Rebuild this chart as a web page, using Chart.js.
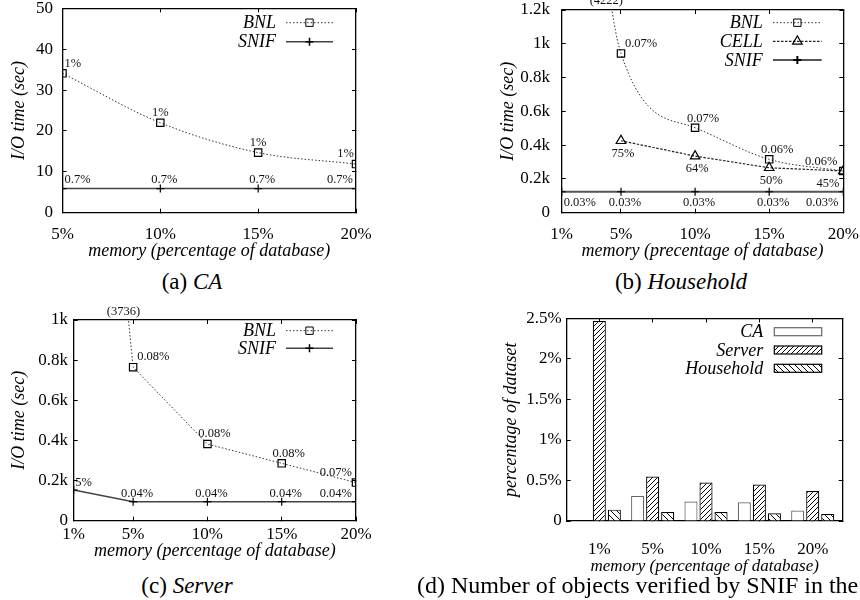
<!DOCTYPE html>
<html>
<head>
<meta charset="utf-8">
<script src="https://cdn.jsdelivr.net/npm/chart.js@4.4.1/dist/chart.umd.min.js"></script>
<style>
  html, body { margin: 0; padding: 0; background: #fff; }
  #page { position: relative; width: 860px; height: 600px; overflow: hidden;
          font-family: "Liberation Serif", "Times New Roman", serif; color: #000; }
  canvas { position: absolute; }
  .cap { position: absolute; font-size: 23px; line-height: 23px; white-space: nowrap; }
  .cap.mid { transform: translateX(-50%); }
  .cap i { font-style: italic; }
</style>
</head>
<body>
<div id="page">
  <canvas id="chartA" width="430" height="262" style="left:0;top:0"></canvas>
  <canvas id="chartB" width="430" height="262" style="left:430px;top:0"></canvas>
  <canvas id="chartC" width="430" height="262" style="left:0;top:300px"></canvas>
  <canvas id="chartD" width="430" height="277" style="left:430px;top:300px"></canvas>
  <div class="cap mid" style="left:192px;top:270px">(a) <i>CA</i></div>
  <div class="cap mid" style="left:681px;top:270px">(b) <i>Household</i></div>
  <div class="cap mid" style="left:187px;top:574px">(c) <i>Server</i></div>
  <div class="cap" style="left:417px;top:574px;font-size:24px">(d) Number of objects verified by SNIF in the</div>
</div>
<script>
// ---- (a) CA: I/O time vs memory ----
const memA = [5, 10, 15, 20];
const bnlA = [34.1, 22.0, 14.7, 11.9];
const snifA = [5.9, 5.9, 5.9, 5.9];
const bnlTextA = ['1%', '1%', '1%', '1%'];
const snifTextA = ['0.7%', '0.7%', '0.7%', '0.7%'];
const xTicksA = [5, 10, 15, 20];
const yTicksA = [0, 10, 20, 30, 40, 50];
const yLabelsA = ['0', '10', '20', '30', '40', '50'];

// ---- (b) Household ----
const memB = [1, 5, 10, 15, 20];
const bnlB = [4222, 943, 503, 316, 247];
const memCellB = [5, 10, 15, 20];
const cellB = [426, 335, 266, 247];
const snifB = [124, 124, 124, 124, 124];
const bnlTextB = [null, '0.07%', '0.07%', '0.06%', '0.06%'];
const cellTextB = ['75%', '64%', '50%', '45%'];
const snifTextB = ['0.03%', '0.03%', '0.03%', '0.03%', '0.03%'];
const xTicksB = [1, 5, 10, 15, 20];
const yTicksB = [0, 200, 400, 600, 800, 1000, 1200];
const yLabelsB = ['0', '0.2k', '0.4k', '0.6k', '0.8k', '1k', '1.2k'];

// ---- (c) Server ----
const memC = [1, 5, 10, 15, 20];
const bnlC = [3736, 765, 382, 286, 190];
const snifC = [153, 95, 95, 95, 95];
const bnlTextC = [null, '0.08%', '0.08%', '0.08%', '0.07%'];
const snifTextC = ['5%', '0.04%', '0.04%', '0.04%', '0.04%'];
const xTicksC = [1, 5, 10, 15, 20];
const yTicksC = [0, 200, 400, 600, 800, 1000];
const yLabelsC = ['0', '0.2k', '0.4k', '0.6k', '0.8k', '1k'];

// ---- (d) objects verified by SNIF ----
const memD = ['1%', '5%', '10%', '15%', '20%'];
const caD = [0.005, 0.31, 0.24, 0.23, 0.13];
const serverD = [2.47, 0.55, 0.475, 0.45, 0.37];
const householdD = [0.14, 0.11, 0.11, 0.095, 0.085];
const yTicksD = [0, 0.5, 1, 1.5, 2, 2.5];
const yLabelsD = ['0', '0.5%', '1%', '1.5%', '2%', '2.5%'];

const SERIF = '"Liberation Serif", "Times New Roman", serif';
Chart.defaults.font.family = SERIF;
Chart.defaults.color = '#000';
Chart.defaults.animation = false;

const pts = (xs, ys) => xs.map((x, i) => ({ x: x, y: ys[i] }));

// value labels next to the points; values above the axis range are
// printed in brackets where the line leaves the top of the plot
const labelPlugin = {
  id: 'ptLabels',
  afterDatasetsDraw(chart) {
    const ctx = chart.ctx;
    const a = chart.chartArea;
    const sy = chart.scales.y;
    ctx.save();
    ctx.font = '12.5px ' + SERIF;
    ctx.fillStyle = '#111';
    ctx.textBaseline = 'middle';
    chart.data.datasets.forEach((ds, di) => {
      const c = ds.ptLabels;
      if (!c) return;
      const meta = chart.getDatasetMeta(di);
      meta.data.forEach((el, i) => {
        const v = ds.data[i].y;
        if (v > sy.max) {
          const nx = meta.data[i + 1];
          const t = (el.y - a.top) / (el.y - nx.y);
          const cx = el.x + (nx.x - el.x) * t;
          ctx.textAlign = 'center';
          ctx.fillText('(' + v + ')', cx + c.topDx, a.top + c.topDy);
          return;
        }
        const align = c.align[i];
        let dx = c.dx;
        if (align === 'left') dx = c.leftDx;
        if (align === 'right') dx = c.rightDx;
        ctx.textAlign = align;
        ctx.fillText(c.text[i], el.x + dx, el.y + c.dy);
      });
    });
    ctx.restore();
  }
};

// key in the upper right corner: right-aligned name followed by a sample
const keyPlugin = {
  id: 'key',
  afterDraw(chart, args, o) {
    if (!o || o.y == null) return;
    const ctx = chart.ctx;
    ctx.save();
    ctx.font = 'italic 18px ' + SERIF;
    ctx.textAlign = 'right';
    ctx.textBaseline = 'middle';
    chart.data.datasets.forEach((ds, i) => {
      const y = o.y + i * o.dy;
      ctx.fillStyle = '#000';
      ctx.fillText(ds.label, o.textRight, y + 1);
      if (o.bars) {
        ctx.fillStyle = ds.backgroundColor;
        ctx.fillRect(o.x1, y - o.h / 2, o.x2 - o.x1, o.h);
        ctx.strokeStyle = ds.borderColor;
        ctx.lineWidth = ds.borderWidth;
        ctx.strokeRect(o.x1, y - o.h / 2, o.x2 - o.x1, o.h);
      } else {
        ctx.strokeStyle = ds.borderColor;
        ctx.lineWidth = ds.borderWidth;
        ctx.setLineDash(ds.borderDash || []);
        ctx.beginPath();
        ctx.moveTo(o.x1, y); ctx.lineTo(o.x2, y);
        ctx.stroke();
        ctx.setLineDash([]);
        ctx.strokeStyle = ds.pointBorderColor;
        ctx.fillStyle = 'rgba(0,0,0,0)';
        Chart.helpers.drawPoint(ctx, {
          pointStyle: ds.pointStyle, radius: ds.pointRadius,
          borderWidth: ds.pointBorderWidth, rotation: 0
        }, (o.x1 + o.x2) / 2, y);
      }
    });
    ctx.restore();
  }
};

// axis border plus short inward tick marks (negative tick length)
const frameGrid = { display: true, drawOnChartArea: false, drawTicks: true, tickLength: -4, color: '#000', lineWidth: 1, offset: false };
const frameBorder = { display: true, color: '#000', width: 1.3 };

function yAxis(ticks, labels, width, pad) {
  return {
    type: 'linear',
    min: ticks[0], max: ticks[ticks.length - 1],
    afterBuildTicks: s => { s.ticks = ticks.map(v => ({ value: v })); },
    afterFit: s => { s.width = width; s.paddingTop = 0; s.paddingBottom = 0; },
    grid: Object.assign({}, frameGrid),
    border: Object.assign({}, frameBorder),
    ticks: { callback: (v, i) => labels[i], font: { size: 17 }, padding: pad + 4, color: '#000' },
    title: { display: true, font: { size: 18, style: 'italic' }, padding: 0, color: '#000' }
  };
}

function xAxis(ticks, height, pad, min, max, fmt) {
  return {
    type: 'linear', min: min, max: max, offset: false,
    afterBuildTicks: s => { s.ticks = ticks.map(v => ({ value: v })); },
    afterFit: s => { s.height = height; s.paddingLeft = 0; s.paddingRight = 0; },
    grid: Object.assign({}, frameGrid),
    border: Object.assign({}, frameBorder),
    ticks: { callback: fmt, font: { size: 17 }, padding: pad + 4, maxRotation: 0, autoSkip: false, color: '#000' },
    title: { display: true, font: { size: 18, style: 'italic' }, padding: 0, color: '#000' }
  };
}

// mirrored axes on the top and right edges: border and ticks only
function topAxis(ticks, min, max) {
  return {
    type: 'linear', position: 'top', display: true, min: min, max: max, offset: false,
    afterBuildTicks: s => { s.ticks = ticks.map(v => ({ value: v })); },
    afterFit: s => { s.height = 0; s.paddingLeft = 0; s.paddingRight = 0; },
    grid: Object.assign({}, frameGrid),
    border: Object.assign({}, frameBorder),
    ticks: { display: false }
  };
}
function rightAxis(ticks) {
  return {
    type: 'linear', position: 'right', display: true,
    min: ticks[0], max: ticks[ticks.length - 1],
    afterBuildTicks: s => { s.ticks = ticks.map(v => ({ value: v })); },
    afterFit: s => { s.width = 0; s.paddingTop = 0; s.paddingBottom = 0; },
    grid: Object.assign({}, frameGrid),
    border: Object.assign({}, frameBorder),
    ticks: { display: false }
  };
}

const pct = v => v + '%';

function bnlSet(data, text, align, o) {
  return Object.assign({
    label: 'BNL', data: data, xAxisID: 'x', yAxisID: 'y',
    borderColor: '#333', borderWidth: 1, borderDash: [1.5, 2],
    pointStyle: 'rect', pointRadius: 5.2, pointBorderWidth: 1.2,
    pointBorderColor: '#000', pointBackgroundColor: 'rgba(0,0,0,0)',
    ptLabels: Object.assign({ text: text, align: align, dx: 0, dy: -10, leftDx: 2, rightDx: -2, topDx: -7, topDy: -9 }, o.lab || {})
  }, o.ds || {});
}
function snifSet(data, text, align, lab) {
  return {
    label: 'SNIF', data: data, xAxisID: 'x', yAxisID: 'y',
    borderColor: '#444', borderWidth: 1.5,
    pointStyle: 'cross', pointRadius: 4, pointBorderWidth: 1.2,
    pointBorderColor: '#000', pointBackgroundColor: 'rgba(0,0,0,0)',
    ptLabels: Object.assign({ text: text, align: align, dx: 4, dy: -8.5, leftDx: 2, rightDx: -3 }, lab || {})
  };
}

const plugins = [labelPlugin, keyPlugin];

// (a)
const optsA = {
  responsive: false,
  layout: { padding: { left: 8.4, top: 8.3, right: 74, bottom: 0 } },
  scales: {
    x: xAxis(xTicksA, 49.3, 11.5, 5, 20, pct),
    y: yAxis(yTicksA, yLabelsA, 54.1, 9.5),
    x2: topAxis(xTicksA, 5, 20),
    y2: rightAxis(yTicksA)
  },
  plugins: {
    legend: { display: false }, tooltip: { enabled: false },
    key: { textRight: 276, y: 22.7, dy: 19, x1: 286, x2: 333 }
  }
};
optsA.scales.x.title.text = 'memory (percentage of database)';
optsA.scales.y.title.text = 'I/O time (sec)';
new Chart(document.getElementById('chartA'), {
  type: 'line',
  data: { datasets: [
    bnlSet(pts(memA, bnlA), bnlTextA, ['left', 'center', 'center', 'right'],
           { ds: { cubicInterpolationMode: 'monotone' } }),
    snifSet(pts(memA, snifA), snifTextA, ['left', 'center', 'center', 'right'])
  ] },
  options: optsA,
  plugins: plugins
});

// (b)
const optsB = {
  responsive: false,
  layout: { padding: { left: 67.1, top: 10, right: 16.7, bottom: 0 } },
  scales: {
    x: xAxis(xTicksB, 49.3, 11.5, 1, 20, pct),
    y: yAxis(yTicksB, yLabelsB, 64.6, 11.7),
    x2: topAxis(xTicksB, 1, 20),
    y2: rightAxis(yTicksB)
  },
  plugins: {
    legend: { display: false }, tooltip: { enabled: false },
    key: { textRight: 332.7, y: 22.7, dy: 18.7, x1: 343, x2: 391.7 }
  }
};
optsB.scales.x.title.text = 'memory (precentage of database)';
optsB.scales.y.title.text = 'I/O time (sec)';
new Chart(document.getElementById('chartB'), {
  type: 'line',
  data: { datasets: [
    bnlSet(pts(memB, bnlB), bnlTextB, [null, 'left', 'center', 'center', 'right'],
           { ds: { cubicInterpolationMode: 'monotone' }, lab: { dx: 8, dy: -9.5, leftDx: 4, rightDx: -6, topDx: -10 } }),
    {
      label: 'CELL', data: pts(memCellB, cellB), xAxisID: 'x', yAxisID: 'y',
      borderColor: '#222', borderWidth: 1.2, borderDash: [2.5, 1.5],
      pointStyle: 'triangle', pointRadius: 5.5, pointBorderWidth: 1.2,
      pointBorderColor: '#000', pointBackgroundColor: 'rgba(0,0,0,0)',
      ptLabels: { text: cellTextB, align: ['center', 'center', 'center', 'right'], dx: 2, dy: 12.5, leftDx: 2, rightDx: -4 }
    },
    Object.assign(snifSet(pts(memB, snifB), snifTextB, ['left', 'center', 'center', 'center', 'right'],
      { dy: 11, rightDx: -5 }), { borderColor: '#555', borderWidth: 2 })
  ] },
  options: optsB,
  plugins: plugins
});

// (c)
const optsC = {
  responsive: false,
  layout: { padding: { left: 8.4, top: 20, right: 74, bottom: 0 } },
  scales: {
    x: xAxis(xTicksC, 41.3, 3.5, 1, 20, pct),
    y: yAxis(yTicksC, yLabelsC, 65.3, 5.7),
    x2: topAxis(xTicksC, 1, 20),
    y2: rightAxis(yTicksC)
  },
  plugins: {
    legend: { display: false }, tooltip: { enabled: false },
    key: { textRight: 276, y: 30.7, dy: 17.6, x1: 286, x2: 333 }
  }
};
optsC.scales.x.title.text = 'memory (percentage of database)';
optsC.scales.y.title.text = 'I/O time (sec)';
new Chart(document.getElementById('chartC'), {
  type: 'line',
  data: { datasets: [
    bnlSet(pts(memC, bnlC), bnlTextC, [null, 'left', 'center', 'center', 'right'],
           { lab: { dx: 7, dy: -10, leftDx: 4, rightDx: -4, topDx: -5, topDy: -8.5 } }),
    snifSet(pts(memC, snifC), snifTextC, ['left', 'center', 'center', 'center', 'right'],
      { dy: -7.5, leftDx: 1.5, rightDx: -4 })
  ] },
  options: optsC,
  plugins: plugins
});

// (d) hatch fills for the bars
const ctxD = document.getElementById('chartD').getContext('2d');
function hatch(forward, gap) {
  const c = document.createElement('canvas');
  c.width = gap; c.height = gap;
  const g = c.getContext('2d');
  g.fillStyle = '#fff';
  g.fillRect(0, 0, gap, gap);
  g.strokeStyle = '#000';
  g.lineWidth = 1;
  g.beginPath();
  if (forward) {
    g.moveTo(-1, gap + 1); g.lineTo(gap + 1, -1);
    g.moveTo(-1, 1); g.lineTo(1, -1);
    g.moveTo(gap - 1, gap + 1); g.lineTo(gap + 1, gap - 1);
  } else {
    g.moveTo(-1, -1); g.lineTo(gap + 1, gap + 1);
    g.moveTo(gap - 1, -1); g.lineTo(gap + 1, 1);
    g.moveTo(-1, gap - 1); g.lineTo(1, gap + 1);
  }
  g.stroke();
  return ctxD.createPattern(c, 'repeat');
}

const barIdx = [0, 1, 2, 3, 4];
const optsD = {
  responsive: false,
  layout: { padding: { left: 70.4, top: 18.5, right: 17.3, bottom: 0 } },
  datasets: { bar: { categoryPercentage: 0.845, barPercentage: 0.87, borderSkipped: 'start' } },
  scales: {
    x: xAxis(barIdx, 56, 18, -0.611, 4.562, v => memD[v]),
    y: yAxis(yTicksD, yLabelsD, 66.3, 5),
    x2: topAxis(barIdx, -0.611, 4.562),
    y2: rightAxis(yTicksD)
  },
  plugins: {
    legend: { display: false }, tooltip: { enabled: false },
    key: { textRight: 333.3, y: 31.7, dy: 18.3, x1: 344.3, x2: 391.7, h: 8, bars: true }
  }
};
optsD.scales.x.title.text = 'memory (percentage of database)';
optsD.scales.x.title.font.size = 17;
optsD.scales.y.title.text = 'percentage of dataset';
new Chart(ctxD, {
  type: 'bar',
  data: { datasets: [
    { label: 'CA', data: pts(barIdx, caD), xAxisID: 'x', yAxisID: 'y', backgroundColor: '#fff', borderColor: '#666', borderWidth: 1.2 },
    { label: 'Server', data: pts(barIdx, serverD), xAxisID: 'x', yAxisID: 'y', backgroundColor: hatch(true, 5), borderColor: '#000', borderWidth: 1.2 },
    { label: 'Household', data: pts(barIdx, householdD), xAxisID: 'x', yAxisID: 'y', backgroundColor: hatch(false, 6), borderColor: '#000', borderWidth: 1.2 }
  ] },
  options: optsD,
  plugins: plugins
});
</script>
</body>
</html>
